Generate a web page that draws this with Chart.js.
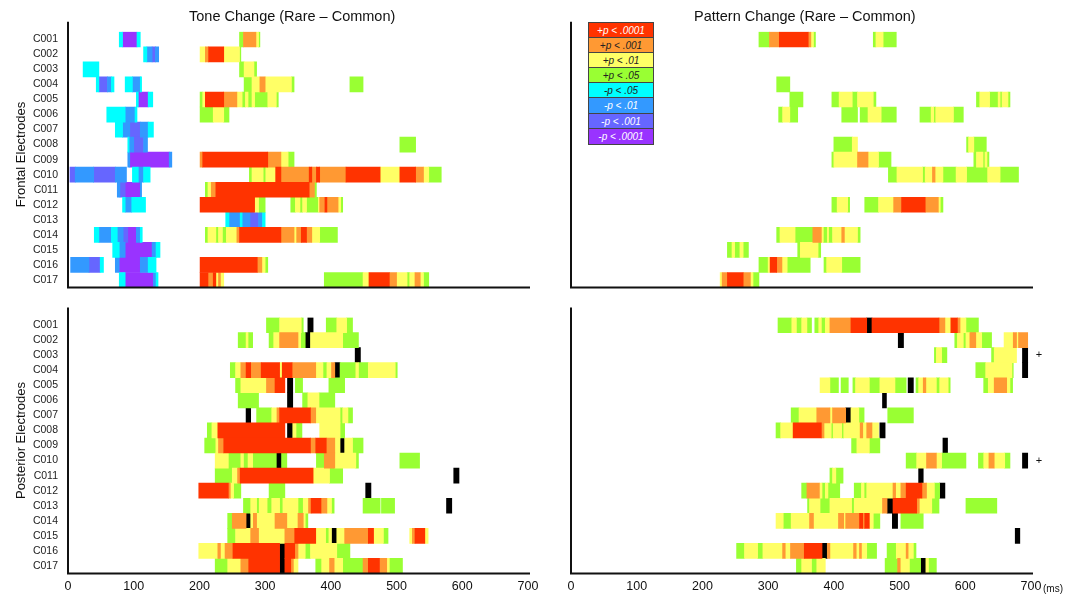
<!DOCTYPE html>
<html>
<head>
<meta charset="utf-8">
<script src="https://cdn.jsdelivr.net/npm/chart.js@4.4.1/dist/chart.umd.min.js"></script>
<style>
  body { margin: 0; background: #fff; font-family: "Liberation Sans", Arial, sans-serif; }
  #wrap { position: relative; width: 1077px; height: 596px; overflow: hidden; }
  canvas { position: absolute; left: 0; top: 0; }
  .title { position: absolute; font-size: 14.5px; color: #111; white-space: nowrap; }
  .ytitle { position: absolute; width: 200px; text-align: center; font-size: 13px; color: #111; transform: rotate(-90deg); }
  #legend { position: absolute; left: 588px; top: 22px; width: 66px; border: 1px solid #444; box-sizing: border-box; }
  #legend div { height: 15.1px; line-height: 15px; font-size: 10px; font-style: italic; text-align: center; border-bottom: 1px solid #444; box-sizing: border-box; }
  #legend div:last-child { border-bottom: none; }
  .unit { position: absolute; left: 1043px; top: 583px; font-size: 10px; color: #111; }
</style>
</head>
<body>
<div id="wrap">
  <canvas id="tf" width="1077" height="596"></canvas>
  <canvas id="pf" width="1077" height="596"></canvas>
  <canvas id="tp" width="1077" height="596"></canvas>
  <canvas id="pp" width="1077" height="596"></canvas>
  <div class="title" style="left:189px; top:8px;">Tone Change (Rare – Common)</div>
  <div class="title" style="left:694px; top:8px;">Pattern Change (Rare – Common)</div>
  <div class="ytitle" style="left:-80px; top:147px;">Frontal Electrodes</div>
  <div class="ytitle" style="left:-80px; top:433px;">Posterior Electrodes</div>
  <div id="legend"></div>
  <div class="unit">(ms)</div>
</div>
<script>
const electrodes = ['C001','C002','C003','C004','C005','C006','C007','C008','C009','C010','C011','C012','C013','C014','C015','C016','C017']
const levelCodes = ['R','O','Y','G','C','B','I','P','K']
const levelLabels = ['+p < .0001','+p < .001','+p < .01','+p < .05','-p < .05','-p < .01','-p < .001','-p < .0001','peak']
const levelColors = ['#FF3300','#FF9933','#FFFF66','#99FF33','#00FFFF','#3399FF','#6666FF','#9933FF','#000000']
const legendTextColors = ['#fff','#222','#222','#222','#222','#fff','#fff','#fff']
const xTicks = [0,100,200,300,400,500,600,700]
const plusRows = ['C003','C010']

// segments per electrode: [start ms, end ms, level]
const toneFrontal = [
  [[78,83,'C'],[83,105,'P'],[105,110,'C'],[261,267,'G'],[267,286,'O'],[286,290,'Y'],[290,292,'G']],
  [[115,120,'C'],[120,128,'B'],[128,133,'I'],[133,138,'B'],[201,209,'Y'],[209,214,'O'],[214,237,'R'],[237,261,'Y'],[261,263,'G']],
  [[23,47,'C'],[261,268,'G'],[268,283,'Y'],[283,287,'G']],
  [[43,47,'C'],[47,60,'I'],[60,66,'B'],[66,70,'C'],[87,98,'C'],[98,110,'B'],[110,112,'C'],[268,280,'G'],[280,292,'Y'],[292,300,'O'],[300,340,'Y'],[340,344,'G'],[429,449,'G']],
  [[104,107,'C'],[107,122,'P'],[122,129,'C'],[201,205,'G'],[205,209,'Y'],[209,237,'R'],[237,257,'O'],[257,265,'Y'],[265,270,'G'],[270,274,'Y'],[274,280,'G'],[280,284,'Y'],[284,304,'G'],[304,317,'Y'],[317,320,'G']],
  [[59,87,'C'],[87,102,'B'],[102,105,'C'],[201,221,'G'],[221,237,'Y'],[237,245,'G']],
  [[72,83,'C'],[83,94,'B'],[94,110,'I'],[110,122,'B'],[122,130,'C']],
  [[91,93,'C'],[93,100,'B'],[100,115,'I'],[115,121,'B'],[505,529,'G']],
  [[91,94,'B'],[94,154,'P'],[154,158,'B'],[201,205,'O'],[205,304,'R'],[304,324,'O'],[324,335,'Y'],[335,344,'G']],
  [[3,11,'I'],[11,39,'B'],[39,72,'I'],[72,89,'B'],[98,107,'C'],[107,115,'B'],[115,125,'C'],[276,280,'G'],[280,297,'Y'],[297,301,'G'],[301,316,'Y'],[316,324,'R'],[324,367,'O'],[367,371,'R'],[371,378,'O'],[378,383,'R'],[383,423,'O'],[423,475,'R'],[475,505,'Y'],[505,529,'R'],[529,541,'O'],[541,549,'Y'],[549,568,'G']],
  [[75,79,'B'],[79,87,'I'],[87,110,'P'],[110,112,'B'],[209,213,'G'],[213,218,'Y'],[218,225,'O'],[225,367,'R'],[367,375,'O'],[375,378,'G']],
  [[83,87,'C'],[87,97,'B'],[97,118,'C'],[201,284,'R'],[284,290,'Y'],[290,300,'G'],[339,346,'G'],[346,353,'Y'],[353,357,'G'],[357,363,'Y'],[363,381,'G'],[381,383,'Y'],[383,391,'O'],[391,394,'R'],[394,411,'O'],[411,415,'Y'],[415,418,'G']],
  [[240,245,'C'],[245,262,'B'],[262,265,'C'],[265,277,'B'],[277,290,'I'],[290,296,'B'],[296,300,'C']],
  [[40,47,'C'],[47,66,'B'],[66,75,'C'],[75,84,'B'],[84,91,'I'],[91,104,'P'],[104,110,'B'],[110,113,'C'],[209,213,'G'],[213,225,'Y'],[225,229,'G'],[229,235,'Y'],[235,241,'G'],[241,257,'Y'],[257,261,'O'],[261,324,'R'],[324,344,'O'],[344,348,'Y'],[348,355,'O'],[355,363,'R'],[363,371,'O'],[371,383,'Y'],[383,410,'G']],
  [[68,78,'C'],[78,87,'B'],[87,128,'P'],[128,134,'B'],[134,140,'C']],
  [[4,32,'B'],[32,49,'I'],[49,54,'C'],[72,78,'B'],[78,110,'P'],[110,122,'B'],[122,134,'C'],[201,288,'R'],[288,295,'O'],[295,300,'Y'],[300,304,'G']],
  [[78,87,'C'],[87,130,'P'],[130,134,'B'],[134,137,'C'],[201,213,'R'],[213,221,'O'],[221,225,'R'],[225,229,'Y'],[229,232,'O'],[232,237,'Y'],[390,449,'G'],[449,458,'Y'],[458,489,'R'],[489,500,'O'],[500,516,'Y'],[516,520,'G'],[520,528,'Y'],[528,536,'O'],[536,541,'Y'],[541,549,'G']]
]

const patternFrontal = [
  [[286,302,'G'],[302,317,'O'],[317,361,'R'],[361,365,'O'],[365,369,'Y'],[369,372,'G'],[460,464,'G'],[464,475,'Y'],[475,495,'G']],
  [],
  [],
  [[313,333,'G']],
  [[333,353,'G'],[397,408,'G'],[408,428,'Y'],[428,436,'G'],[436,460,'Y'],[460,464,'G'],[617,622,'G'],[622,637,'Y'],[637,650,'G'],[650,653,'Y'],[653,656,'G'],[656,665,'Y'],[665,668,'G']],
  [[316,322,'G'],[322,333,'Y'],[333,345,'G'],[412,436,'G'],[440,452,'G'],[452,472,'Y'],[472,495,'G'],[531,548,'G'],[548,552,'Y'],[552,555,'G'],[555,582,'Y'],[582,597,'G']],
  [],
  [[400,428,'G'],[428,436,'Y'],[602,605,'G'],[605,613,'Y'],[613,632,'G']],
  [[397,400,'G'],[400,436,'Y'],[436,452,'O'],[452,468,'Y'],[468,487,'G'],[613,617,'G'],[617,627,'Y'],[627,630,'G'],[630,633,'Y'],[633,636,'G']],
  [[483,496,'G'],[496,535,'Y'],[535,539,'G'],[539,550,'Y'],[550,554,'O'],[554,566,'Y'],[566,586,'G'],[586,602,'Y'],[602,634,'G'],[634,653,'Y'],[653,681,'G']],
  [],
  [[397,405,'G'],[405,421,'Y'],[421,424,'G'],[447,468,'G'],[468,491,'Y'],[491,503,'O'],[503,539,'R'],[539,559,'O'],[559,562,'Y'],[562,566,'G']],
  [],
  [[313,318,'G'],[318,341,'Y'],[341,368,'G'],[368,381,'O'],[381,384,'Y'],[384,390,'G'],[390,392,'Y'],[392,398,'G'],[398,412,'Y'],[412,416,'O'],[416,436,'Y'],[436,440,'G']],
  [[238,245,'G'],[245,249,'Y'],[249,257,'G'],[257,262,'Y'],[262,270,'G'],[345,349,'G'],[349,376,'Y'],[376,380,'G']],
  [[286,300,'G'],[300,303,'Y'],[303,313,'R'],[313,321,'O'],[321,329,'Y'],[329,364,'G'],[385,389,'G'],[389,412,'Y'],[412,440,'G']],
  [[227,230,'Y'],[230,238,'O'],[238,262,'R'],[262,273,'O'],[273,277,'Y'],[277,286,'G']]
]

const tonePosterior = [
  [[302,322,'G'],[322,355,'Y'],[355,358,'G'],[365,373,'K'],[393,409,'G'],[409,424,'Y'],[424,433,'G']],
  [[259,271,'G'],[271,274,'Y'],[274,281,'G'],[306,313,'G'],[313,322,'Y'],[322,350,'O'],[350,354,'Y'],[354,361,'G'],[361,369,'K'],[369,418,'Y'],[418,442,'G']],
  [[437,445,'K']],
  [[247,255,'G'],[255,263,'Y'],[263,271,'O'],[271,278,'R'],[278,294,'O'],[294,322,'R'],[322,326,'Y'],[326,341,'R'],[341,377,'O'],[377,388,'Y'],[388,394,'G'],[394,401,'Y'],[401,406,'O'],[406,414,'K'],[414,438,'G'],[438,442,'Y'],[442,457,'G'],[457,498,'Y'],[498,501,'G']],
  [[255,263,'G'],[263,302,'Y'],[302,315,'O'],[315,330,'R'],[334,342,'K'],[346,357,'G'],[397,421,'G']],
  [[259,290,'G'],[334,342,'K'],[357,365,'G'],[365,382,'Y'],[382,406,'G']],
  [[271,278,'K'],[287,310,'G'],[310,318,'Y'],[318,322,'O'],[322,369,'R'],[369,377,'O'],[377,414,'Y'],[414,418,'G'],[418,426,'Y'],[426,433,'G']],
  [[212,219,'G'],[219,228,'Y'],[228,330,'R'],[334,342,'K'],[342,347,'Y'],[347,356,'G'],[383,414,'Y'],[414,421,'G']],
  [[208,225,'G'],[225,229,'Y'],[229,237,'O'],[237,369,'R'],[369,377,'O'],[377,393,'R'],[393,406,'O'],[406,414,'Y'],[414,421,'K'],[421,433,'Y'],[433,449,'G']],
  [[224,244,'Y'],[244,263,'G'],[263,267,'Y'],[267,274,'G'],[274,281,'Y'],[281,317,'G'],[317,325,'K'],[325,333,'G'],[378,390,'G'],[390,406,'O'],[406,438,'Y'],[438,442,'G'],[505,535,'G']],
  [[224,250,'G'],[250,258,'Y'],[258,262,'O'],[262,373,'R'],[373,398,'Y'],[398,418,'G'],[587,595,'K']],
  [[199,244,'R'],[244,247,'O'],[247,252,'Y'],[252,263,'G'],[306,330,'G'],[453,461,'K']],
  [[267,278,'G'],[278,287,'Y'],[287,291,'G'],[291,303,'Y'],[303,310,'G'],[310,322,'Y'],[322,327,'G'],[327,350,'Y'],[350,358,'G'],[358,366,'Y'],[366,370,'O'],[370,385,'R'],[385,394,'O'],[394,401,'Y'],[401,405,'G'],[449,475,'G'],[477,497,'G'],[576,584,'K']],
  [[243,250,'G'],[250,271,'O'],[271,278,'K'],[278,282,'Y'],[282,287,'O'],[287,315,'Y'],[315,333,'O'],[333,350,'Y'],[350,358,'O'],[358,361,'Y'],[361,365,'G']],
  [[243,255,'G'],[255,278,'Y'],[278,290,'O'],[290,330,'Y'],[330,345,'O'],[345,377,'R'],[377,392,'Y'],[392,397,'G'],[397,401,'Y'],[401,409,'K'],[409,421,'Y'],[421,457,'O'],[457,465,'R'],[465,480,'Y'],[480,487,'G'],[520,524,'Y'],[524,528,'O'],[528,543,'R'],[543,548,'Y']],
  [[199,228,'Y'],[228,232,'O'],[232,239,'Y'],[239,251,'O'],[251,322,'R'],[322,330,'K'],[330,345,'R'],[345,350,'O'],[350,361,'Y'],[361,369,'G'],[369,409,'Y'],[409,429,'G']],
  [[224,243,'G'],[243,263,'Y'],[263,275,'O'],[275,322,'R'],[322,330,'K'],[330,339,'R'],[339,343,'O'],[343,350,'Y'],[377,386,'G'],[386,398,'Y'],[398,405,'O'],[405,418,'Y'],[418,449,'G'],[449,457,'O'],[457,474,'R'],[474,485,'O'],[485,489,'Y'],[489,509,'G']]
]

const patternPosterior = [
  [[315,336,'G'],[336,343,'Y'],[343,351,'G'],[351,359,'Y'],[359,366,'G'],[371,377,'G'],[377,381,'Y'],[381,387,'G'],[387,394,'Y'],[394,426,'O'],[426,450,'R'],[450,458,'K'],[458,560,'R'],[560,569,'O'],[569,578,'Y'],[578,588,'R'],[588,592,'O'],[592,601,'Y'],[601,620,'G']],
  [[498,506,'K'],[584,588,'G'],[588,597,'Y'],[597,601,'G'],[601,607,'Y'],[607,616,'O'],[616,625,'Y'],[625,640,'G'],[659,673,'Y'],[673,678,'O'],[678,681,'Y'],[681,695,'O']],
  [[553,556,'G'],[556,564,'Y'],[564,572,'G'],[640,644,'G'],[644,678,'Y'],[687,695,'K']],
  [[616,631,'G'],[631,671,'Y'],[671,673,'G'],[687,695,'K']],
  [[379,394,'Y'],[394,407,'G'],[411,422,'G'],[429,433,'G'],[433,454,'Y'],[454,470,'G'],[470,493,'Y'],[493,510,'G'],[513,521,'K'],[525,529,'G'],[529,536,'Y'],[536,540,'O'],[540,556,'Y'],[556,561,'G'],[561,574,'Y'],[574,577,'G'],[628,635,'G'],[635,644,'Y'],[644,663,'O'],[663,668,'Y'],[668,672,'G']],
  [[474,480,'K']],
  [[335,347,'G'],[347,374,'Y'],[374,394,'O'],[394,398,'Y'],[398,418,'O'],[418,426,'K'],[426,438,'Y'],[438,446,'G'],[482,521,'G']],
  [[312,319,'G'],[319,338,'Y'],[338,381,'R'],[381,385,'O'],[385,396,'Y'],[396,399,'G'],[399,412,'Y'],[412,415,'G'],[415,440,'Y'],[440,444,'O'],[444,450,'Y'],[450,458,'O'],[458,468,'Y'],[470,478,'K']],
  [[427,435,'G'],[435,454,'Y'],[454,470,'G'],[566,573,'K']],
  [[510,526,'G'],[526,541,'Y'],[541,556,'O'],[556,564,'Y'],[564,601,'G'],[620,628,'G'],[628,636,'Y'],[636,644,'O'],[644,660,'Y'],[660,668,'G'],[687,695,'K']],
  [[394,398,'G'],[398,403,'Y'],[403,414,'G'],[529,536,'K']],
  [[351,359,'G'],[359,378,'O'],[378,382,'Y'],[382,387,'G'],[387,391,'Y'],[391,409,'G'],[431,442,'G'],[442,446,'Y'],[446,450,'G'],[450,490,'Y'],[490,494,'O'],[494,502,'Y'],[502,510,'O'],[510,534,'R'],[534,541,'O'],[541,553,'Y'],[553,561,'G'],[561,569,'K']],
  [[360,363,'G'],[363,379,'Y'],[379,394,'G'],[394,427,'Y'],[427,431,'G'],[431,474,'Y'],[474,481,'O'],[481,490,'K'],[490,526,'R'],[526,530,'O'],[530,549,'Y'],[549,560,'G'],[601,648,'G']],
  [[312,323,'Y'],[323,335,'G'],[335,363,'Y'],[363,369,'O'],[369,407,'Y'],[407,415,'O'],[415,418,'Y'],[418,439,'O'],[439,444,'R'],[444,447,'O'],[447,454,'R'],[454,460,'Y'],[460,470,'G'],[489,497,'K'],[502,536,'G']],
  [[676,683,'K']],
  [[252,264,'G'],[264,284,'Y'],[284,292,'G'],[292,322,'Y'],[322,326,'O'],[326,334,'Y'],[334,355,'O'],[355,382,'R'],[382,390,'K'],[390,394,'O'],[394,430,'Y'],[430,434,'O'],[434,439,'Y'],[439,442,'O'],[442,450,'Y'],[450,465,'G'],[481,495,'G'],[495,510,'Y'],[510,513,'O'],[513,521,'Y'],[521,525,'G']],
  [[343,351,'G'],[351,366,'Y'],[366,374,'G'],[374,387,'Y'],[478,497,'G'],[497,501,'O'],[501,515,'Y'],[515,532,'G'],[532,540,'K'],[540,544,'Y'],[544,556,'G']]
]

// legend box
const legendBox = document.getElementById("legend")
levelLabels.slice(0, 8).forEach(function(lab, i){
  const d = document.createElement("div")
  d.textContent = lab
  d.style.background = levelColors[i]
  d.style.color = legendTextColors[i]
  legendBox.appendChild(d)
})

const axisLines = {
  id: 'axisLines',
  afterDatasetsDraw(chart, args, opts) {
    const {ctx, chartArea} = chart
    ctx.save()
    ctx.strokeStyle = '#111'
    ctx.lineWidth = 2
    ctx.beginPath()
    ctx.moveTo(chartArea.left, chartArea.top - opts.ext)
    ctx.lineTo(chartArea.left, chartArea.bottom)
    ctx.lineTo(chartArea.right + 2, chartArea.bottom)
    ctx.stroke()
    if (opts.plus) {
      ctx.fillStyle = '#111'
      ctx.font = '11px "Liberation Sans", Arial, sans-serif'
      ctx.textAlign = 'center'
      ctx.textBaseline = 'middle'
      opts.plus.forEach(function(r){
        ctx.fillText('+', chart.scales.x.getPixelForValue(700) + 8, chart.scales.y.getPixelForValue(electrodes.indexOf(r)))
      })
    }
    ctx.restore()
  }
}

function graficar(id, rows, padding, showY, showX, plus) {
  const datasets = levelCodes.map(function(code, i){
    return {
      label: levelLabels[i],
      data: [],
      backgroundColor: levelColors[i],
      borderWidth: 0,
      grouped: false,
      barPercentage: 1,
      categoryPercentage: 1
    }
  })
  rows.forEach(function(segs, r){
    segs.forEach(function(s){
      datasets[levelCodes.indexOf(s[2])].data.push({y: electrodes[r], x: [s[0], s[1]]})
    })
  })

  new Chart(document.getElementById(id).getContext("2d"), {
    type: 'bar',
    data: { labels: electrodes, datasets: datasets },
    options: {
      indexAxis: 'y',
      responsive: false,
      animation: false,
      layout: { padding: padding },
      plugins: {
        legend: { display: false },
        tooltip: { enabled: false },
        axisLines: { ext: 10, plus: plus }
      },
      scales: {
        x: {
          type: 'linear', min: 0, max: 700,
          display: showX,
          grid: { display: false, drawTicks: false },
          border: { display: false },
          afterFit: function(s){ if (showX) s.height = 22.5 },
          afterBuildTicks: function(s){ s.ticks = xTicks.map(v => ({value: v})) },
          ticks: { padding: 6, color: '#111', font: { size: 12.5, family: '"Liberation Sans", Arial, sans-serif' }, maxRotation: 0, autoSkip: false }
        },
        y: {
          type: 'category',
          display: showY,
          grid: { display: false, drawTicks: false },
          border: { display: false },
          afterFit: function(s){ if (showY) s.width = 68 },
          ticks: { padding: 10, color: '#222', autoSkip: false, font: { size: 10.5, family: '"Liberation Sans", Arial, sans-serif' } }
        }
      }
    },
    plugins: [axisLines]
  })
}

graficar("tf", toneFrontal, {left: 0, right: 549, top: 31.8, bottom: 308.5}, true, false, null)
graficar("pf", patternFrontal, {left: 571, right: 46, top: 31.8, bottom: 308.5}, false, false, null)
graficar("tp", tonePosterior, {left: 0, right: 549, top: 317.5, bottom: 0}, true, true, null)
graficar("pp", patternPosterior, {left: 571, right: 46, top: 317.5, bottom: 0}, false, true, plusRows)
</script>
</body>
</html>
